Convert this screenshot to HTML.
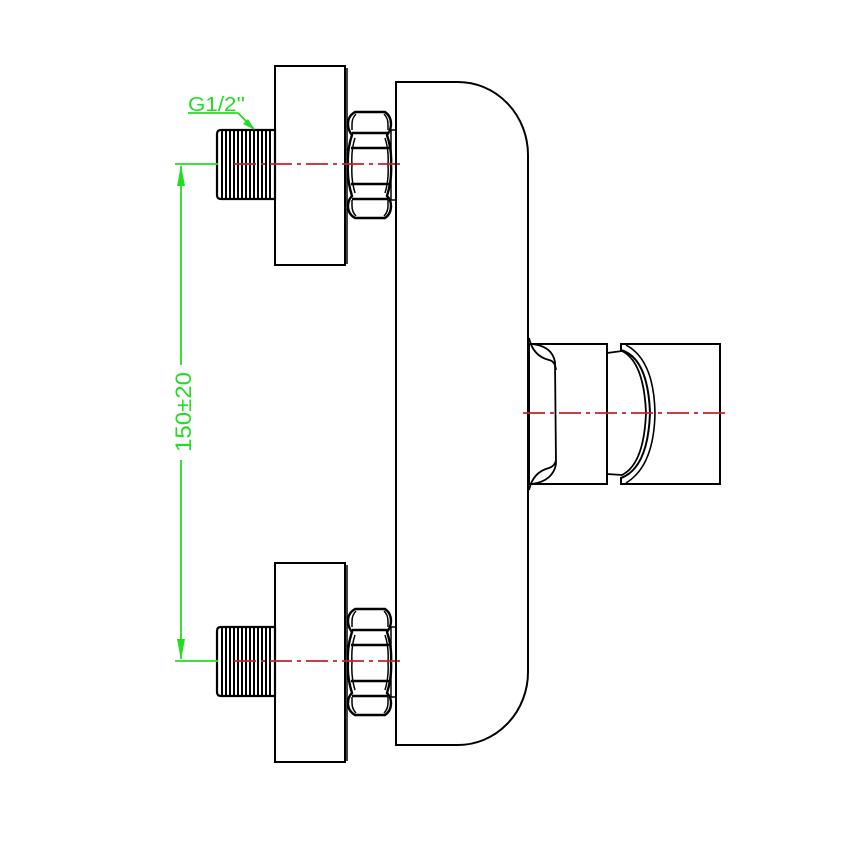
<!DOCTYPE html>
<html><head><meta charset="utf-8"><style>html,body{margin:0;padding:0;background:#fff}svg{display:block}</style></head>
<body>
<svg width="850" height="850" viewBox="0 0 850 850" xmlns="http://www.w3.org/2000/svg">
<defs>
<g id="fit">
  <!-- thread -->
  <path d="M221,130 L275,130 L275,199 L221,199 Q217,199 217,195 L217,134 Q217,130 221,130 Z" fill="none" stroke="#000" stroke-width="2.2"/>
  <g stroke="#000" stroke-width="2">
    <line x1="222" y1="130" x2="222" y2="199"/><line x1="226" y1="130" x2="226" y2="199"/>
    <line x1="230" y1="130" x2="230" y2="199"/><line x1="234" y1="130" x2="234" y2="199"/>
    <line x1="238" y1="130" x2="238" y2="199"/><line x1="242" y1="130" x2="242" y2="199"/>
    <line x1="246" y1="130" x2="246" y2="199"/><line x1="250" y1="130" x2="250" y2="199"/>
    <line x1="254" y1="130" x2="254" y2="199"/><line x1="258" y1="130" x2="258" y2="199"/>
    <line x1="262" y1="130" x2="262" y2="199"/><line x1="266" y1="130" x2="266" y2="199"/>
    <line x1="270" y1="130" x2="270" y2="199"/>
  </g>
  <!-- flange -->
  <rect x="275" y="66" width="70" height="199" fill="none" stroke="#000" stroke-width="2"/>
  <line x1="347" y1="68" x2="347" y2="264" stroke="#000" stroke-width="1.5"/>
  <!-- back plate -->
  <rect x="391" y="130" width="5" height="70" fill="none" stroke="#000" stroke-width="1.5"/>
  <!-- nut -->
  <path d="M355,112 L385,112 Q391,116 391,124 Q391,130 387,135 Q392,150 391,165 Q392,180 387,196 Q391,200 391,206 Q391,214 385,218 L355,218 Q348,214 348,206 Q348,200 352,196 Q347,180 348,165 Q347,150 352,135 Q348,130 348,124 Q348,116 355,112 Z" fill="none" stroke="#000" stroke-width="2.4"/>
  <path d="M356,114 Q352,118 352,124 L352,130 M384,114 Q388,118 388,124 L388,130 M352,200 L352,206 Q352,212 356,216 M388,200 L388,206 Q388,212 384,216 M355,138 Q351,150 352,165 Q351,180 355,193 M385,138 Q389,150 388,165 Q389,180 385,193" fill="none" stroke="#000" stroke-width="1.5"/>
  <g stroke="#000" stroke-width="2.4">
    <line x1="352" y1="133" x2="388" y2="133"/><line x1="351" y1="148" x2="389" y2="148"/>
    <line x1="351" y1="184" x2="389" y2="184"/><line x1="352" y1="199" x2="388" y2="199"/>
  </g>
  <!-- centerline -->
  <line x1="234" y1="164" x2="400" y2="164" stroke="#c8222a" stroke-width="1.8" stroke-dasharray="22,5,4,5"/>
</g>
</defs>
<use href="#fit"/>
<use href="#fit" transform="translate(0,497)"/>

<!-- body -->
<path d="M396,745 L396,82 L458,82 A70,73 0 0 1 528,155 L528,672 A70,73 0 0 1 458,745 Z" fill="none" stroke="#000" stroke-width="2"/>

<!-- handle -->
<rect x="529" y="344" width="78" height="140" fill="none" stroke="#000" stroke-width="2"/>
<path d="M529,338 Q533,356 549,360 Q555,361 556,370 M532,344 Q552,346 555,362 L556,464 Q553,481 532,484 M529,490 Q533,472 549,468 Q555,466 556,460" fill="none" stroke="#000" stroke-width="1.8"/>
<path d="M607,353 L622,351 Q644,362 646,413 Q644,464 622,475 L607,474" fill="none" stroke="#000" stroke-width="1.8"/>
<path d="M621,344 L720,344 L720,484 L621,484 L621,478 Q648,468 650,413 Q648,358 621,350 Z" fill="none" stroke="#000" stroke-width="2"/>
<path d="M626,345 Q654,360 655,413 Q654,466 626,483" fill="none" stroke="#000" stroke-width="1.6"/>
<line x1="523" y1="413" x2="727" y2="413" stroke="#c8222a" stroke-width="1.8" stroke-dasharray="22,5,4,5"/>

<!-- dimension -->
<g stroke="#22dd22" stroke-width="1.8" fill="none">
  <line x1="175" y1="164" x2="218" y2="164"/>
  <line x1="175" y1="661" x2="218" y2="661"/>
  <line x1="181" y1="166" x2="181" y2="365"/>
  <line x1="181" y1="460" x2="181" y2="659"/>
  <line x1="188" y1="113" x2="238" y2="113"/>
  <line x1="238" y1="113" x2="254" y2="129"/>
</g>
<polygon points="181,165 177,186 185,186" fill="#22dd22"/>
<polygon points="181,660 177,639 185,639" fill="#22dd22"/>
<polygon points="255,130 243,124 248,119" fill="#22dd22"/>
<text x="188" y="111" font-family="Liberation Sans, sans-serif" font-size="20" fill="#22dd22" textLength="57" lengthAdjust="spacingAndGlyphs">G1/2''</text>
<text transform="translate(191,412) rotate(-90)" text-anchor="middle" font-family="Liberation Sans, sans-serif" font-size="22" fill="#22dd22" textLength="80" lengthAdjust="spacingAndGlyphs">150±20</text>
</svg>
</body></html>
